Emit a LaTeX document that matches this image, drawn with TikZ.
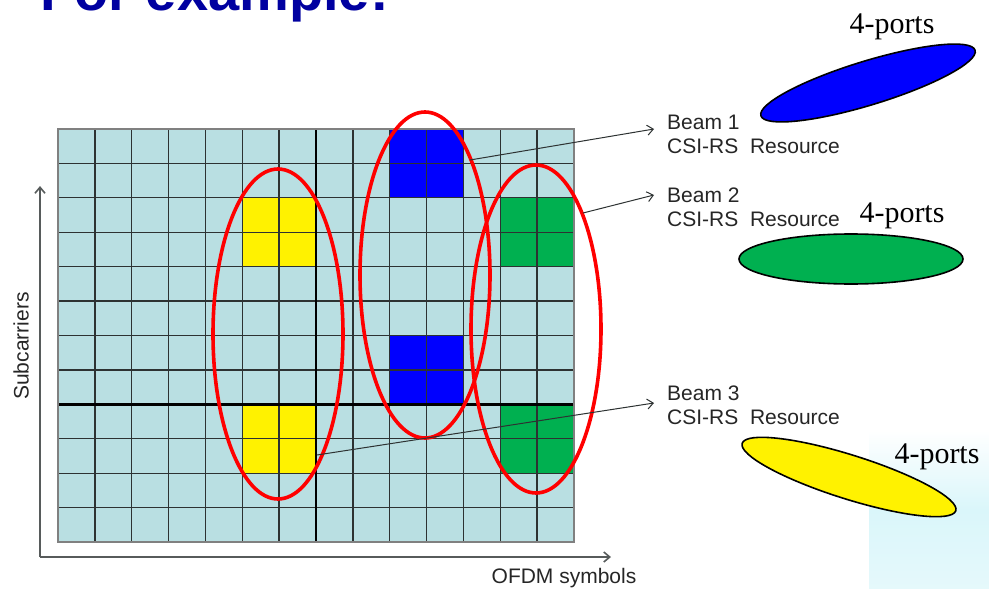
\documentclass[tikz,border=0pt]{standalone}
\usepackage{fontspec}
\setmainfont{Liberation Sans}
\newfontfamily\portfont{Liberation Serif}
\usetikzlibrary{shapes.geometric,arrows.meta}
\definecolor{cellblue}{RGB}{185,223,226}
\definecolor{gridgray}{RGB}{45,50,50}
\definecolor{titleblue}{RGB}{0,0,160}
\definecolor{beamgreen}{RGB}{0,176,80}
\definecolor{bgcyan}{RGB}{218,246,250}
\tikzset{
  gridline/.style={draw=gridgray, line width=1.3pt},
  thickline/.style={draw=black, line width=2.6pt},
  ring/.style={ellipse, draw=red, line width=3.6pt, inner sep=0pt},
  beam/.style={ellipse, draw=black, line width=1.6pt, inner sep=0pt},
  conn/.style={draw=gridgray, line width=1pt, -{Straight Barb[length=6pt,width=10pt]}},
  axis/.style={draw=gridgray!80, line width=1.6pt, -{Straight Barb[length=6pt,width=10pt]}},
  lbl/.style={font=\fontsize{21}{24}\selectfont, text=black!85, align=left, inner sep=0pt},
  ports/.style={font=\portfont\fontsize{30}{36}\selectfont, inner sep=0pt, anchor=base},
}
\begin{document}
\begin{tikzpicture}[x=1pt,y=-1pt]
\useasboundingbox (0,0) rectangle (989,589);
\clip (0,0) rectangle (989,589);
\fill[white] (0,0) rectangle (989,589);
% slide background corner
\shade[top color=white, bottom color=bgcyan!70, middle color=bgcyan] (869,430) rectangle (989,589);
% title (cut off at top)
\node[anchor=base west, inner sep=0pt, text=titleblue, font=\bfseries\fontsize{56}{60}\selectfont] (title) at (40,10) {For example:};
% grid
\def\xa{58}\def\ya{129}\def\cw{36.857}\def\rh{34.417}
\fill[cellblue] (58,129) rectangle (574,542);
\foreach \c/\r/\col in {5/2/yellow,5/8/yellow,9/0/blue,9/6/blue,12/2/beamgreen,12/8/beamgreen}{
  \fill[\col] ({\xa+\c*\cw},{\ya+\r*\rh}) rectangle ({\xa+(\c+2)*\cw},{\ya+(\r+2)*\rh});
}
\foreach \i in {0,...,14}{\draw[gridline] ({\xa+\i*\cw},129) -- ({\xa+\i*\cw},542);}
\foreach \j in {0,...,12}{\draw[gridline] (58,{\ya+\j*\rh}) -- (574,{\ya+\j*\rh});}
\draw[thickline] ({\xa+7*\cw},129) -- ({\xa+7*\cw},542);
\draw[thickline] (58,{\ya+8*\rh}) -- (574,{\ya+8*\rh});
\draw[draw=gray, line width=1.4pt] (58,129) rectangle (574,542);
% axes
\coordinate (origin) at (40,557);
\coordinate (ytip) at (40,186);
\coordinate (xtip) at (611,557);
\draw[axis] (origin) -- (ytip);
\draw[axis] (origin) -- (xtip);
\node[lbl, rotate=90] (subc) at (21,346) {Subcarriers};
\node[lbl] (ofdm) at (564,578) {OFDM symbols};
% red rings
\node[ring, minimum width=130pt, minimum height=330pt] (ring1) at (278,334) {};
\node[ring, minimum width=130pt, minimum height=326pt] (ring2) at (425,275) {};
\node[ring, minimum width=130pt, minimum height=328pt] (ring3) at (536,329) {};
% labels
\node[lbl, anchor=west] (beam1) at (667,134) {Beam 1\\CSI-RS\ \ Resource};
\node[lbl, anchor=west] (beam2) at (667,207) {Beam 2\\CSI-RS\ \ Resource};
\node[lbl, anchor=west] (beam3) at (667,405) {Beam 3\\CSI-RS\ \ Resource};
% connectors
\coordinate (s1) at (470,160);
\coordinate (s2) at (583,213);
\coordinate (s3) at (317,455);
\coordinate (e1) at (654,129);
\coordinate (e2) at (654,195);
\coordinate (e3) at (654,403);
\draw[conn] (s1) -- (e1);
\draw[conn] (s2) -- (e2);
\draw[conn] (s3) -- (e3);
% beam ellipses
\node[beam, fill=blue, minimum width=224pt, minimum height=44pt, rotate=17] (bl) at (868,83) {};
\node[beam, fill=beamgreen, minimum width=224pt, minimum height=50pt] (gr) at (851,259) {};
\node[beam, fill=yellow, minimum width=224pt, minimum height=44pt, rotate=-17.5] (ye) at (849,477) {};
% port labels
\node[ports] (p1) at (892,33) {4-ports};
\node[ports] (p2) at (902,222) {4-ports};
\node[ports] (p3) at (937,463) {4-ports};
\end{tikzpicture}
\end{document}
